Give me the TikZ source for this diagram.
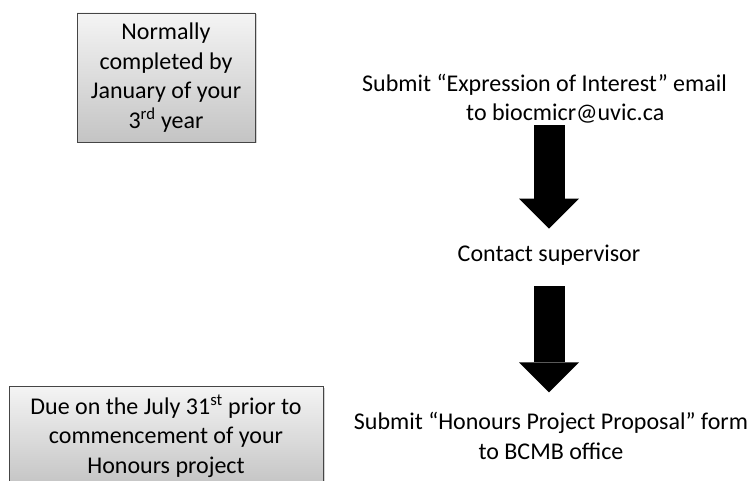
\documentclass[tikz,border=0pt]{standalone}
\usepackage{fontspec}
\setmainfont{Carlito}
\usetikzlibrary{arrows.meta,shadows}

\definecolor{boxtop}{HTML}{F4F4F4}
\definecolor{boxbottom}{HTML}{C4C4C4}
\definecolor{boxline}{HTML}{454545}

\tikzset{
    txt/.style={font={\fontsize{24pt}{29.5pt}\selectfont},inner sep=0pt},
    notebox/.style={txt,align=center,draw=boxline,line width=0.9pt,
        top color=boxtop,bottom color=boxbottom,
        drop shadow={shadow xshift=1.5pt,shadow yshift=-1.5pt,opacity=0.35}},
    blockarrow/.style={line width=31pt,
        -{Triangle[width=60pt,length=30pt,line width=0pt]}},
}

\begin{document}
\begin{tikzpicture}[x=1pt,y=-1pt]
    \useasboundingbox (0,0) rectangle (750,481);
    % notes on the left
    \node[notebox,minimum width=178pt,minimum height=129pt] (when) at (166,77.5)
        {Normally\\completed by\\January of your\\3\textsuperscript{rd} year};
    \node[notebox,minimum width=314pt,minimum height=100pt] (due) at (166,436)
        {Due on the July 31\textsuperscript{st} prior to\\commencement of your\\Honours project};
    % steps on the right
    \node[txt,align=left,anchor=west] (interest) at (362,98.5)
        {Submit ``Expression of Interest'' email\\\hspace*{104pt}to biocmicr@uvic.ca};
    \node[txt] (contact) at (549,255) {Contact supervisor};
    \node[txt,align=center] (proposal) at (551,436)
        {Submit ``Honours Project Proposal'' form\\to BCMB office};
    \draw[blockarrow] ([yshift=-2pt]interest.south -| contact.center)
        -- ([yshift=16pt]contact.north);
    \draw[blockarrow] ([yshift=-21pt]contact.south)
        -- ([yshift=20pt]proposal.north -| contact.center);
\end{tikzpicture}
\end{document}
